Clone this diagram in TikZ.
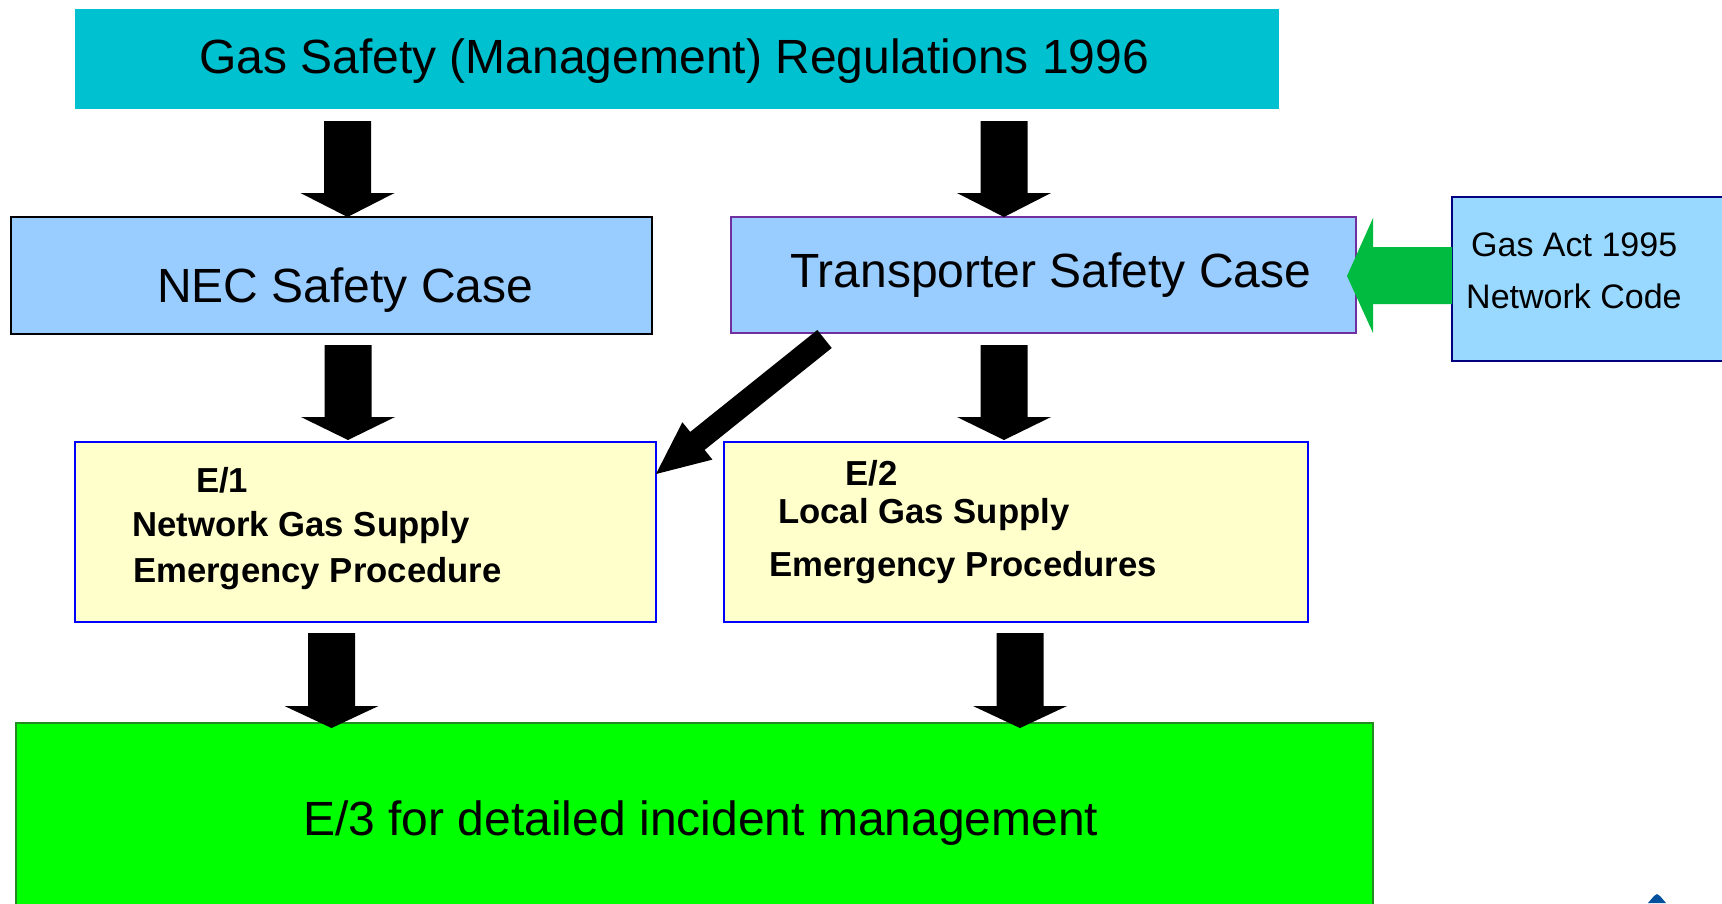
\documentclass[tikz,border=0pt]{standalone}
\usepackage{fontspec}
\setmainfont{Liberation Sans}
\definecolor{topcyan}{RGB}{0,193,208}
\definecolor{caseblue}{RGB}{153,204,255}
\definecolor{actblue}{RGB}{153,217,255}
\definecolor{purpleb}{RGB}{112,48,160}
\definecolor{navyb}{RGB}{0,0,128}
\definecolor{paleyel}{RGB}{255,255,204}
\definecolor{brightgreen}{RGB}{0,255,0}
\definecolor{darkgreenb}{RGB}{34,139,34}
\definecolor{arrowgreen}{RGB}{0,187,64}
\definecolor{logoblue}{RGB}{0,80,158}
\newcommand\blkdown[4]{%
  \fill[black] (#1-23.5,#2) -- (#1+23.5,#2) -- (#1+23.5,#3) -- (#1+47,#3) -- (#1,#4) -- (#1-47,#3) -- (#1-23.5,#3) -- cycle;}
\begin{document}
\begin{tikzpicture}[x=1pt,y=-1pt,
  box/.style={rectangle,inner sep=0pt,line width=2pt},
  bigtxt/.style={anchor=base west,inner sep=0pt,font=\fontsize{48}{56}\selectfont},
  midtxt/.style={anchor=base west,inner sep=0pt,font=\fontsize{34}{40}\selectfont},
  boldtxt/.style={anchor=base west,inner sep=0pt,font=\fontsize{34.7}{40}\selectfont\bfseries}]
\useasboundingbox (0,0) rectangle (1722,903);
% boxes
\node[box,fill=topcyan,minimum width=1204pt,minimum height=100pt] (regs) at (677,59) {};
\node[box,fill=caseblue,draw=black,minimum width=641pt,minimum height=117pt] (nec) at (331.5,275.5) {};
\node[box,fill=caseblue,draw=purpleb,line width=2.5pt,minimum width=625pt,minimum height=116pt] (trans) at (1043.5,275) {};
\node[box,fill=actblue,draw=navyb,minimum width=288pt,minimum height=164pt] (act) at (1596,279) {};
\node[box,fill=paleyel,draw=blue,minimum width=581pt,minimum height=180pt] (e1) at (365.5,532) {};
\node[box,fill=paleyel,draw=blue,minimum width=584pt,minimum height=180pt] (e2) at (1016,532) {};
\node[box,fill=brightgreen,draw=darkgreenb,minimum width=1357pt,minimum height=197pt] (e3) at (694.5,821.5) {};
% texts
\node[bigtxt] (tregs) at (199,73) {Gas Safety (Management) Regulations 1996};
\node[bigtxt] (tnec) at (157,302) {NEC Safety Case};
\node[bigtxt] (ttrans) at (790,287) {Transporter Safety Case};
\node[midtxt] (tact1) at (1471,256) {Gas Act 1995};
\node[midtxt] (tact2) at (1466,308) {Network Code};
\node[boldtxt] (te1a) at (196,492) {E/1};
\node[boldtxt] (te1b) at (132,536) {Network Gas Supply};
\node[boldtxt] (te1c) at (133,582) {Emergency Procedure};
\node[boldtxt] (te2a) at (845,485) {E/2};
\node[boldtxt] (te2b) at (778,523) {Local Gas Supply};
\node[boldtxt] (te2c) at (769,576) {Emergency Procedures};
\node[bigtxt] (te3) at (303,835) {E/3 for detailed incident management};
% block arrows
\blkdown{347.5}{121}{193}{217}
\blkdown{1004}{121}{193}{217}
\blkdown{348}{345}{417}{440}
\blkdown{1004}{345}{417}{440}
\blkdown{331.5}{633}{706}{728}
\blkdown{1020}{633}{706}{728}
% diagonal arrow
\fill[black] (831.7,348.0) -- (817.3,330.0) -- (690.2,431.9) -- (682.4,422.2) -- (656,474) -- (712.4,459.6) -- (704.6,449.9) -- cycle;
% green arrow
\fill[arrowgreen] (1452,247) -- (1373,247) -- (1373,218) -- (1347,276) -- (1373,333) -- (1373,304) -- (1452,304) -- cycle;
% logo fragment
\fill[logoblue] (1648,903) -- (1654,896) -- (1657,894) -- (1660,896) -- (1666,903) -- cycle;
\end{tikzpicture}
\end{document}
